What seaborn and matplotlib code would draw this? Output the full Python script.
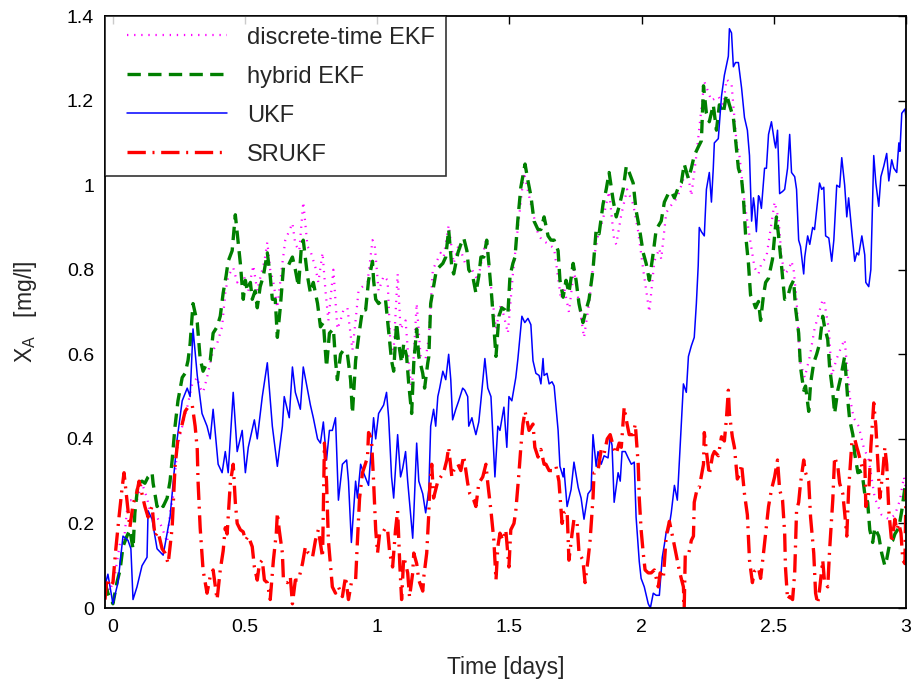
import matplotlib
matplotlib.use("Agg")
import matplotlib.pyplot as plt
import seaborn as sns
import pandas as pd
from matplotlib.ticker import FuncFormatter
from matplotlib.lines import Line2D
from matplotlib.legend_handler import HandlerLine2D

# ---------------- data ----------------
t_ukf = [-0.027, -0.019, 0.0, 0.019, 0.038, 0.057, 0.068, 0.076, 0.091, 0.110, 0.129, 0.133, 0.148, 0.167, 0.190,
         0.216, 0.243, 0.262, 0.281, 0.292, 0.303, 0.319, 0.337, 0.356, 0.368, 0.379, 0.398, 0.413, 0.425, 0.436,
         0.455, 0.470, 0.489, 0.501, 0.512, 0.535, 0.546, 0.565, 0.584, 0.603, 0.622, 0.641, 0.648, 0.667, 0.679,
         0.690, 0.709, 0.720, 0.747, 0.758, 0.774, 0.785, 0.796, 0.808, 0.819, 0.830, 0.842, 0.853, 0.868, 0.884,
         0.891, 0.902, 0.918, 0.925, 0.937, 0.948, 0.967, 0.986, 0.994, 1.005, 1.024, 1.035, 1.043, 1.054, 1.062,
         1.077, 1.088, 1.096, 1.107, 1.115, 1.134, 1.138, 1.149, 1.157, 1.172, 1.183, 1.195, 1.202, 1.213, 1.221,
         1.229, 1.236, 1.248, 1.259, 1.270, 1.278, 1.285, 1.297, 1.308, 1.323, 1.331, 1.342, 1.346, 1.358, 1.365,
         1.373, 1.384, 1.392, 1.407, 1.418, 1.430, 1.445, 1.456, 1.464, 1.479, 1.490, 1.498, 1.509, 1.524, 1.532,
         1.547, 1.558, 1.570, 1.581, 1.589, 1.600, 1.612, 1.619, 1.627, 1.631, 1.642, 1.650, 1.661, 1.669, 1.684,
         1.691, 1.703, 1.706, 1.718, 1.733, 1.744, 1.760, 1.771, 1.782, 1.797, 1.809, 1.816, 1.828, 1.835, 1.847,
         1.858, 1.873, 1.881, 1.888, 1.896, 1.911, 1.919, 1.926, 1.938, 1.949, 1.961, 1.972, 1.979, 1.991, 1.998,
         2.010, 2.025, 2.033, 2.044, 2.055, 2.067, 2.078, 2.086, 2.093, 2.101, 2.112, 2.124, 2.135, 2.143, 2.158,
         2.169, 2.177, 2.188, 2.199, 2.207, 2.214, 2.218, 2.226, 2.237, 2.245, 2.256, 2.264, 2.271, 2.275, 2.290,
         2.302, 2.313, 2.328, 2.332, 2.340, 2.347, 2.355, 2.366, 2.378, 2.389, 2.400, 2.408, 2.416, 2.423, 2.427,
         2.434, 2.442, 2.446, 2.453, 2.465, 2.472, 2.480, 2.491, 2.503, 2.507, 2.514, 2.522, 2.533, 2.541, 2.552,
         2.560, 2.567, 2.579, 2.586, 2.594, 2.601, 2.613, 2.617, 2.628, 2.636, 2.647, 2.654, 2.666, 2.673, 2.681,
         2.689, 2.696, 2.708, 2.719, 2.727, 2.738, 2.749, 2.757, 2.768, 2.776, 2.783, 2.795, 2.806, 2.814, 2.821,
         2.833, 2.844, 2.848, 2.859, 2.867, 2.878, 2.886, 2.897, 2.905, 2.916, 2.927, 2.935, 2.946, 2.954, 2.965,
         2.973, 2.977, 2.984, 2.996, 3.0]
ukf = [0.06, 0.08, 0.01, 0.06, 0.17, 0.16, 0.14, 0.02, 0.05, 0.10, 0.12, 0.23, 0.21, 0.14, 0.125,
       0.215, 0.40, 0.49, 0.52, 0.50, 0.66, 0.55, 0.46, 0.43, 0.40, 0.47, 0.34, 0.32, 0.37, 0.32,
       0.51, 0.37, 0.42, 0.32, 0.38, 0.445, 0.40, 0.50, 0.58, 0.43, 0.335, 0.43, 0.50, 0.45, 0.57,
       0.51, 0.47, 0.57, 0.48, 0.45, 0.40, 0.39, 0.44, 0.35, 0.42, 0.42, 0.45, 0.255, 0.34, 0.35,
       0.30, 0.155, 0.30, 0.26, 0.34, 0.32, 0.29, 0.45, 0.40, 0.46, 0.48, 0.51, 0.45, 0.31, 0.26,
       0.41, 0.31, 0.33, 0.37, 0.30, 0.165, 0.22, 0.39, 0.30, 0.27, 0.225, 0.28, 0.43, 0.47, 0.43,
       0.50, 0.52, 0.56, 0.54, 0.60, 0.54, 0.445, 0.47, 0.49, 0.52, 0.515, 0.50, 0.43, 0.45, 0.43,
       0.41, 0.44, 0.49, 0.59, 0.52, 0.50, 0.31, 0.43, 0.42, 0.475, 0.38, 0.50, 0.49, 0.545, 0.59,
       0.69, 0.675, 0.685, 0.67, 0.585, 0.555, 0.55, 0.53, 0.59, 0.55, 0.555, 0.53, 0.535, 0.525, 0.42,
       0.335, 0.31, 0.33, 0.24, 0.28, 0.345, 0.285, 0.26, 0.21, 0.27, 0.28, 0.41, 0.335, 0.37, 0.34,
       0.36, 0.355, 0.405, 0.385, 0.25, 0.32, 0.30, 0.37, 0.37, 0.355, 0.34, 0.345, 0.215, 0.11, 0.07,
       0.05, 0.01, 0.0, 0.035, 0.03, 0.03, 0.12, 0.15, 0.18, 0.18, 0.225, 0.29, 0.255, 0.35, 0.53,
       0.51, 0.595, 0.62, 0.64, 0.72, 0.81, 0.90, 0.89, 0.88, 0.99, 1.03, 0.96, 1.04, 1.10, 1.11,
       1.21, 1.26, 1.305, 1.37, 1.36, 1.28, 1.29, 1.29, 1.23, 1.16, 1.13, 1.07, 0.915, 0.97, 0.95,
       0.89, 0.975, 0.97, 0.945, 1.04, 1.04, 1.12, 1.15, 1.10, 1.088, 1.13, 0.98, 0.985, 0.99, 1.04,
       1.12, 1.03, 1.02, 0.99, 0.87, 0.855, 0.79, 0.83, 0.88, 0.86, 0.90, 0.895, 0.965, 1.005, 0.99,
       0.995, 0.88, 0.875, 0.82, 0.87, 1.0, 0.995, 1.065, 1.0, 0.925, 0.97, 0.89, 0.82, 0.84, 0.835,
       0.88, 0.835, 0.77, 0.76, 0.80, 1.07, 1.005, 0.95, 1.02, 1.045, 1.075, 1.01, 1.06, 1.04, 1.03,
       1.10, 1.08, 1.17, 1.18, 1.16]

t_hyb = [-0.030, -0.019, 0.0, 0.015, 0.027, 0.038, 0.053, 0.064, 0.076, 0.083, 0.095, 0.110, 0.121, 0.133, 0.148,
         0.152, 0.167, 0.178, 0.190, 0.205, 0.216, 0.224, 0.235, 0.246, 0.262, 0.273, 0.284, 0.292, 0.303, 0.319,
         0.330, 0.341, 0.356, 0.368, 0.379, 0.394, 0.406, 0.417, 0.428, 0.436, 0.451, 0.463, 0.482, 0.493, 0.501,
         0.508, 0.520, 0.527, 0.538, 0.546, 0.557, 0.569, 0.584, 0.595, 0.603, 0.614, 0.622, 0.633, 0.645, 0.660,
         0.671, 0.679, 0.690, 0.702, 0.713, 0.720, 0.736, 0.747, 0.758, 0.774, 0.785, 0.796, 0.808, 0.819, 0.834,
         0.842, 0.849, 0.861, 0.872, 0.887, 0.899, 0.906, 0.918, 0.929, 0.944, 0.956, 0.967, 0.982, 0.986, 0.994,
         1.005, 1.020, 1.031, 1.054, 1.062, 1.073, 1.081, 1.092, 1.100, 1.111, 1.119, 1.130, 1.138, 1.149, 1.157,
         1.172, 1.179, 1.191, 1.195, 1.202, 1.213, 1.221, 1.232, 1.248, 1.259, 1.270, 1.282, 1.289, 1.305, 1.316,
         1.327, 1.339, 1.346, 1.361, 1.373, 1.384, 1.392, 1.403, 1.414, 1.422, 1.433, 1.449, 1.460, 1.471, 1.483,
         1.494, 1.502, 1.513, 1.521, 1.532, 1.543, 1.559, 1.570, 1.581, 1.593, 1.608, 1.619, 1.631, 1.646, 1.657,
         1.669, 1.684, 1.691, 1.703, 1.714, 1.725, 1.741, 1.752, 1.763, 1.778, 1.790, 1.801, 1.816, 1.828, 1.839,
         1.854, 1.866, 1.877, 1.892, 1.904, 1.915, 1.930, 1.942, 1.953, 1.968, 1.979, 1.991, 2.006, 2.017, 2.029,
         2.044, 2.055, 2.074, 2.086, 2.101, 2.112, 2.124, 2.139, 2.150, 2.161, 2.177, 2.188, 2.199, 2.214, 2.226,
         2.234, 2.245, 2.256, 2.271, 2.283, 2.294, 2.309, 2.321, 2.332, 2.347, 2.355, 2.366, 2.378, 2.385, 2.393,
         2.404, 2.412, 2.423, 2.431, 2.442, 2.450, 2.461, 2.469, 2.480, 2.495, 2.503, 2.510, 2.518, 2.529, 2.541,
         2.552, 2.563, 2.575, 2.582, 2.594, 2.601, 2.613, 2.620, 2.632, 2.639, 2.651, 2.662, 2.673, 2.685, 2.692,
         2.704, 2.711, 2.723, 2.730, 2.742, 2.753, 2.768, 2.780, 2.787, 2.799, 2.806, 2.818, 2.825, 2.836, 2.844,
         2.855, 2.863, 2.874, 2.882, 2.897, 2.908, 2.920, 2.927, 2.939, 2.950, 2.958, 2.973, 2.984, 2.996, 3.0]
hyb = [0.06, 0.035, 0.01, 0.06, 0.09, 0.145, 0.17, 0.185, 0.14, 0.225, 0.295, 0.30, 0.295, 0.31, 0.32,
       0.295, 0.24, 0.25, 0.24, 0.26, 0.30, 0.35, 0.43, 0.49, 0.545, 0.555, 0.585, 0.625, 0.72, 0.675,
       0.59, 0.56, 0.58, 0.585, 0.65, 0.665, 0.69, 0.745, 0.785, 0.82, 0.845, 0.93, 0.815, 0.73, 0.775,
       0.75, 0.77, 0.73, 0.75, 0.71, 0.76, 0.785, 0.84, 0.785, 0.73, 0.73, 0.64, 0.71, 0.805, 0.805,
       0.82, 0.83, 0.80, 0.76, 0.855, 0.87, 0.785, 0.745, 0.77, 0.72, 0.665, 0.675, 0.57, 0.65, 0.66,
       0.585, 0.54, 0.60, 0.61, 0.60, 0.54, 0.46, 0.585, 0.64, 0.705, 0.705, 0.775, 0.82, 0.775, 0.73,
       0.72, 0.73, 0.73, 0.585, 0.56, 0.675, 0.625, 0.58, 0.625, 0.595, 0.53, 0.46, 0.58, 0.66, 0.595,
       0.555, 0.52, 0.58, 0.595, 0.72, 0.76, 0.79, 0.805, 0.815, 0.83, 0.895, 0.805, 0.79, 0.84, 0.86,
       0.875, 0.845, 0.80, 0.785, 0.745, 0.785, 0.83, 0.83, 0.87, 0.815, 0.735, 0.595, 0.69, 0.71, 0.705,
       0.695, 0.785, 0.815, 0.83, 0.92, 0.995, 1.05, 1.01, 0.975, 0.915, 0.895, 0.895, 0.925, 0.88, 0.87,
       0.87, 0.845, 0.775, 0.735, 0.775, 0.745, 0.815, 0.775, 0.72, 0.675, 0.705, 0.73, 0.80, 0.895, 0.885,
       0.955, 0.99, 1.03, 0.965, 0.925, 0.95, 0.99, 1.045, 1.03, 1.005, 0.94, 0.90, 0.84, 0.815, 0.775,
       0.84, 0.895, 0.915, 0.96, 0.98, 0.985, 0.97, 0.995, 1.005, 1.05, 1.015, 1.04, 1.07, 1.09, 1.105,
       1.235, 1.17, 1.15, 1.19, 1.13, 1.19, 1.17, 1.215, 1.19, 1.16, 1.11, 1.04, 1.015, 0.97, 0.885,
       0.815, 0.74, 0.725, 0.71, 0.725, 0.68, 0.74, 0.77, 0.78, 0.825, 0.88, 0.925, 0.88, 0.81, 0.73,
       0.735, 0.76, 0.775, 0.71, 0.65, 0.57, 0.515, 0.525, 0.465, 0.53, 0.58, 0.60, 0.625, 0.69, 0.665,
       0.635, 0.57, 0.51, 0.46, 0.515, 0.545, 0.595, 0.49, 0.445, 0.41, 0.365, 0.32, 0.325, 0.31, 0.27,
       0.25, 0.185, 0.155, 0.19, 0.17, 0.13, 0.10, 0.115, 0.155, 0.16, 0.175, 0.19, 0.23, 0.285, 0.255]

t_dekf = [-0.030, -0.011, 0.008, 0.027, 0.042, 0.057, 0.076, 0.091, 0.110, 0.129, 0.140, 0.167, 0.186, 0.205, 0.216,
          0.228, 0.243, 0.254, 0.281, 0.300, 0.319, 0.330, 0.341, 0.356, 0.368, 0.379, 0.394, 0.413, 0.425, 0.436,
          0.455, 0.470, 0.493, 0.512, 0.531, 0.546, 0.557, 0.573, 0.584, 0.595, 0.607, 0.622, 0.641, 0.652, 0.679,
          0.690, 0.705, 0.720, 0.736, 0.747, 0.766, 0.777, 0.793, 0.804, 0.815, 0.834, 0.849, 0.861, 0.872, 0.887,
          0.906, 0.918, 0.929, 0.944, 0.963, 0.982, 0.990, 1.005, 1.024, 1.039, 1.050, 1.062, 1.077, 1.088, 1.107,
          1.119, 1.130, 1.149, 1.164, 1.183, 1.195, 1.210, 1.240, 1.251, 1.270, 1.289, 1.308, 1.335, 1.350, 1.380,
          1.411, 1.430, 1.449, 1.468, 1.494, 1.513, 1.532, 1.555, 1.581, 1.608, 1.623, 1.650, 1.669, 1.695, 1.706,
          1.725, 1.744, 1.763, 1.782, 1.801, 1.820, 1.835, 1.854, 1.866, 1.877, 1.896, 1.904, 1.923, 1.945, 1.968,
          1.987, 2.006, 2.029, 2.048, 2.067, 2.074, 2.093, 2.120, 2.135, 2.158, 2.177, 2.188, 2.207, 2.237, 2.264,
          2.290, 2.309, 2.321, 2.340, 2.359, 2.370, 2.389, 2.408, 2.427, 2.442, 2.453, 2.472, 2.503, 2.518, 2.529,
          2.541, 2.556, 2.567, 2.575, 2.586, 2.598, 2.617, 2.636, 2.651, 2.654, 2.685, 2.692, 2.708, 2.719, 2.738,
          2.757, 2.768, 2.787, 2.802, 2.821, 2.840, 2.859, 2.882, 2.908, 2.935, 2.958, 2.977, 2.992, 3.0]
dekf = [0.06, 0.04, 0.08, 0.155, 0.16, 0.255, 0.255, 0.255, 0.295, 0.26, 0.23, 0.215, 0.19, 0.155, 0.225,
        0.265, 0.375, 0.41, 0.475, 0.53, 0.545, 0.52, 0.51, 0.545, 0.58, 0.61, 0.625, 0.665, 0.745, 0.785,
        0.805, 0.77, 0.79, 0.75, 0.81, 0.75, 0.78, 0.82, 0.865, 0.80, 0.77, 0.71, 0.815, 0.87, 0.91,
        0.86, 0.845, 0.96, 0.855, 0.845, 0.805, 0.77, 0.84, 0.75, 0.68, 0.80, 0.66, 0.68, 0.705, 0.71,
        0.61, 0.68, 0.75, 0.76, 0.77, 0.87, 0.86, 0.75, 0.785, 0.775, 0.62, 0.61, 0.79, 0.66, 0.68,
        0.58, 0.51, 0.72, 0.595, 0.59, 0.64, 0.80, 0.84, 0.83, 0.905, 0.815, 0.86, 0.81, 0.81, 0.775,
        0.87, 0.76, 0.66, 0.72, 0.65, 0.79, 0.90, 1.03, 0.955, 0.885, 0.87, 0.86, 0.85, 0.73, 0.76,
        0.70, 0.80, 0.72, 0.64, 0.72, 0.83, 0.88, 0.92, 0.955, 0.985, 0.87, 0.86, 0.93, 0.99, 0.955,
        0.89, 0.80, 0.70, 0.82, 0.85, 0.825, 0.935, 0.96, 0.97, 1.015, 1.02, 0.975, 1.07, 1.245, 1.20,
        1.21, 1.19, 1.25, 1.24, 1.10, 1.07, 0.96, 0.88, 0.805, 0.79, 0.815, 0.83, 0.96, 0.92, 0.83,
        0.79, 0.80, 0.82, 0.80, 0.73, 0.585, 0.545, 0.595, 0.65, 0.66, 0.73, 0.72, 0.66, 0.55, 0.59,
        0.62, 0.635, 0.50, 0.45, 0.43, 0.38, 0.35, 0.26, 0.22, 0.21, 0.22, 0.255, 0.31, 0.28]

t_srukf = [-0.030, -0.023, -0.011, 0.0, 0.011, 0.023, 0.034, 0.042, 0.053, 0.064, 0.076, 0.091, 0.099, 0.110, 0.121,
           0.133, 0.148, 0.159, 0.171, 0.186, 0.197, 0.209, 0.224, 0.235, 0.246, 0.262, 0.273, 0.284, 0.300, 0.311,
           0.319, 0.322, 0.330, 0.341, 0.356, 0.368, 0.379, 0.394, 0.406, 0.417, 0.425, 0.432, 0.444, 0.455, 0.463,
           0.470, 0.482, 0.493, 0.501, 0.512, 0.527, 0.535, 0.546, 0.554, 0.565, 0.573, 0.584, 0.595, 0.607, 0.618,
           0.622, 0.629, 0.641, 0.645, 0.660, 0.671, 0.679, 0.690, 0.702, 0.717, 0.728, 0.739, 0.755, 0.766, 0.777,
           0.793, 0.800, 0.808, 0.815, 0.830, 0.842, 0.853, 0.868, 0.880, 0.891, 0.902, 0.918, 0.925, 0.933, 0.944,
           0.952, 0.963, 0.967, 0.978, 0.986, 0.994, 1.001, 1.009, 1.020, 1.031, 1.039, 1.047, 1.058, 1.069, 1.077,
           1.085, 1.092, 1.100, 1.107, 1.115, 1.122, 1.134, 1.138, 1.149, 1.157, 1.172, 1.176, 1.187, 1.195, 1.198,
           1.206, 1.213, 1.229, 1.240, 1.251, 1.263, 1.270, 1.282, 1.289, 1.305, 1.316, 1.327, 1.342, 1.350, 1.365,
           1.373, 1.384, 1.399, 1.411, 1.418, 1.430, 1.441, 1.449, 1.456, 1.464, 1.475, 1.486, 1.498, 1.505, 1.517,
           1.524, 1.536, 1.543, 1.551, 1.559, 1.574, 1.589, 1.596, 1.608, 1.619, 1.631, 1.638, 1.650, 1.665, 1.676,
           1.687, 1.699, 1.706, 1.718, 1.725, 1.737, 1.744, 1.756, 1.763, 1.778, 1.786, 1.797, 1.805, 1.816, 1.820,
           1.835, 1.847, 1.858, 1.870, 1.881, 1.896, 1.904, 1.915, 1.923, 1.934, 1.945, 1.953, 1.968, 1.976, 1.987,
           1.991, 1.998, 2.006, 2.013, 2.025, 2.036, 2.048, 2.063, 2.070, 2.082, 2.093, 2.105, 2.120, 2.131, 2.143,
           2.158, 2.161, 2.165, 2.177, 2.188, 2.196, 2.199, 2.211, 2.218, 2.234, 2.237, 2.249, 2.256, 2.268, 2.275,
           2.290, 2.302, 2.313, 2.321, 2.328, 2.332, 2.343, 2.351, 2.362, 2.370, 2.378, 2.389, 2.400, 2.408, 2.419,
           2.427, 2.442, 2.450, 2.461, 2.469, 2.480, 2.491, 2.503, 2.514, 2.522, 2.533, 2.541, 2.544, 2.552, 2.560,
           2.571, 2.579, 2.586, 2.594, 2.601, 2.613, 2.620, 2.632, 2.639, 2.651, 2.658, 2.666, 2.673, 2.685, 2.692,
           2.704, 2.711, 2.723, 2.730, 2.742, 2.749, 2.761, 2.768, 2.776, 2.783, 2.795, 2.806, 2.814, 2.821, 2.833,
           2.844, 2.848, 2.859, 2.867, 2.878, 2.886, 2.893, 2.901, 2.912, 2.920, 2.927, 2.935, 2.946, 2.958, 2.965,
           2.973, 2.981, 2.988, 2.996, 3.0]
srukf = [0.02, 0.07, 0.05, 0.06, 0.14, 0.215, 0.28, 0.32, 0.255, 0.19, 0.245, 0.275, 0.30, 0.27, 0.24,
         0.215, 0.24, 0.17, 0.18, 0.14, 0.13, 0.105, 0.19, 0.335, 0.40, 0.435, 0.465, 0.475, 0.48, 0.43,
         0.375, 0.30, 0.19, 0.09, 0.035, 0.075, 0.09, 0.02, 0.09, 0.135, 0.19, 0.175, 0.295, 0.34, 0.25,
         0.20, 0.185, 0.18, 0.16, 0.17, 0.145, 0.097, 0.066, 0.105, 0.113, 0.066, 0.06, 0.02, 0.113, 0.177,
         0.225, 0.185, 0.13, 0.066, 0.06, 0.074, 0.01, 0.066, 0.066, 0.105, 0.145, 0.13, 0.12, 0.16, 0.185,
         0.12, 0.39, 0.30, 0.16, 0.05, 0.035, 0.05, 0.027, 0.074, 0.02, 0.06, 0.066, 0.16, 0.26, 0.32,
         0.335, 0.357, 0.415, 0.40, 0.30, 0.185, 0.13, 0.177, 0.177, 0.19, 0.185, 0.13, 0.097, 0.185, 0.23,
         0.105, 0.02, 0.12, 0.105, 0.083, 0.026, 0.083, 0.13, 0.105, 0.066, 0.04, 0.074, 0.13, 0.225, 0.28,
         0.34, 0.26, 0.30, 0.31, 0.32, 0.35, 0.38, 0.31, 0.325, 0.34, 0.325, 0.36, 0.295, 0.27, 0.255,
         0.24, 0.295, 0.31, 0.34, 0.295, 0.23, 0.16, 0.066, 0.145, 0.177, 0.16, 0.185, 0.097, 0.185, 0.20,
         0.23, 0.32, 0.38, 0.435, 0.465, 0.42, 0.435, 0.38, 0.357, 0.375, 0.34, 0.34, 0.325, 0.325, 0.335,
         0.30, 0.20, 0.225, 0.23, 0.113, 0.177, 0.21, 0.20, 0.13, 0.113, 0.06, 0.113, 0.16, 0.26, 0.32,
         0.325, 0.375, 0.365, 0.40, 0.41, 0.375, 0.365, 0.39, 0.38, 0.475, 0.435, 0.41, 0.41, 0.435, 0.34,
         0.26, 0.185, 0.13, 0.09, 0.083, 0.083, 0.09, 0.05, 0.083, 0.07, 0.17, 0.205, 0.16, 0.125, 0.087,
         0.05, 0.0, 0.125, 0.125, 0.16, 0.17, 0.25, 0.285, 0.285, 0.34, 0.415, 0.35, 0.315, 0.36, 0.37,
         0.36, 0.405, 0.395, 0.45, 0.515, 0.46, 0.405, 0.38, 0.305, 0.315, 0.34, 0.27, 0.22, 0.113, 0.06,
         0.087, 0.095, 0.07, 0.13, 0.177, 0.24, 0.28, 0.31, 0.35, 0.28, 0.255, 0.177, 0.097, 0.02, 0.027,
         0.02, 0.083, 0.23, 0.25, 0.295, 0.35, 0.32, 0.30, 0.215, 0.13, 0.035, 0.01, 0.043, 0.113, 0.06,
         0.05, 0.137, 0.255, 0.357, 0.335, 0.295, 0.27, 0.225, 0.17, 0.28, 0.39, 0.40, 0.38, 0.365, 0.335,
         0.35, 0.24, 0.27, 0.38, 0.485, 0.43, 0.35, 0.26, 0.32, 0.38, 0.34, 0.23, 0.155, 0.21, 0.185,
         0.20, 0.177, 0.113, 0.105, 0.28]

labels = ["discrete-time EKF", "hybrid EKF", "UKF", "SRUKF"]
x_ticks = [0, 0.5, 1, 1.5, 2, 2.5, 3]
y_ticks = [0, 0.2, 0.4, 0.6, 0.8, 1.0, 1.2, 1.4]

# ---------------- style ----------------
sns.set_style("white")
plt.rcParams["font.family"] = ["Liberation Sans", "DejaVu Sans"]
plt.rcParams["mathtext.fontset"] = "custom"
plt.rcParams["mathtext.rm"] = "Liberation Sans"
plt.rcParams["mathtext.default"] = "regular"

fig = plt.figure(figsize=(9.17, 6.85), dpi=100)
ax = fig.add_axes([0.1145, 0.1124, 0.8735, 0.8642])

series = [
    (t_dekf, dekf, labels[0], "#ff00ff", 1.6, (0, (0.6, 2.6))),
    (t_hyb, hyb, labels[1], "#007f00", 2.4, (0, (4.0, 2.2))),
    (t_ukf, ukf, labels[2], "#0000ff", 1.1, "-"),
    (t_srukf, srukf, labels[3], "#ff0000", 2.4, (0, (5.5, 2.0, 0.6, 2.0))),
]
for tx, vy, lab, col, lw, ls in series:
    df = pd.DataFrame({"t": tx, "v": vy})
    sns.lineplot(data=df, x="t", y="v", ax=ax, color=col, linewidth=lw,
                 linestyle=ls, label=lab, sort=False, estimator=None)

ax.set_xlim(-0.03, 3.0)
ax.set_ylim(0, 1.4)
ax.set_xticks(x_ticks)
ax.set_yticks(y_ticks)
fmt = FuncFormatter(lambda v, p: "%g" % v)
ax.xaxis.set_major_formatter(fmt)
ax.yaxis.set_major_formatter(fmt)
ax.tick_params(direction="in", length=6, width=1.0, labelsize=14, pad=8,
               top=True, right=True, colors="black")
for s in ax.spines.values():
    s.set_visible(True)
    s.set_color("black")
    s.set_linewidth(1.3)

ax.set_xlabel("Time [days]", fontsize=16.5, labelpad=14)
ax.set_ylabel("X$_{A}$   [mg/l]", fontsize=16.5, labelpad=20)

leg = ax.legend(loc="upper left", bbox_to_anchor=(0.0, 1.0), fontsize=17,
                frameon=True, fancybox=False, handlelength=4.72, handletextpad=0.85,
                labelspacing=0.72, borderpad=0.45, borderaxespad=0.0,
                handler_map={Line2D: HandlerLine2D(xpad=0.48)})
leg.get_frame().set_edgecolor("black")
leg.get_frame().set_linewidth(1.2)

fig.savefig("out.png", dpi=100)
